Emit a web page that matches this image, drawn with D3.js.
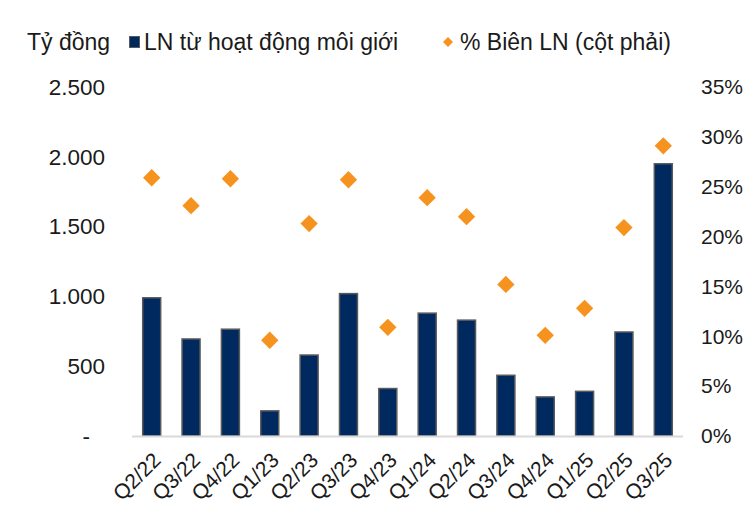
<!DOCTYPE html>
<html><head><meta charset="utf-8">
<script src="https://cdn.jsdelivr.net/npm/d3@7"></script>
<style>
body{margin:0;background:#fff;}
text{font-family:"Liberation Sans",Arial,sans-serif;fill:#1a1a1a;}
</style></head>
<body><svg id="c" width="751" height="507"></svg>
<script>
const quarters = ["Q2/22","Q3/22","Q4/22","Q1/23","Q2/23","Q3/23","Q4/23","Q1/24","Q2/24","Q3/24","Q4/24","Q1/25","Q2/25","Q3/25"];
const profit = [990, 695, 765, 180, 580, 1020, 340, 880, 830, 435, 280, 320, 745, 1950];
const margin = [25.9, 23.1, 25.8, 9.6, 21.3, 25.7, 10.9, 23.9, 22.0, 15.2, 10.1, 12.8, 20.9, 29.1];
const leftTicks = [0, 500, 1000, 1500, 2000, 2500];
const rightTicks = [0, 5, 10, 15, 20, 25, 30, 35];
const unitLabel = "Tỷ đồng";
const seriesNames = ["LN từ hoạt động môi giới", "% Biên LN (cột phải)"];

const navy = "#002a5f", orange = "#f6921e", barStroke = "#5a5a5a";
const svg = d3.select("#c");
const ff = "Liberation Sans, Arial, sans-serif";

const x = d3.scaleBand().domain(quarters).range([132, 683]).paddingInner(0.543).paddingOuter(0.272);
const yL = d3.scaleLinear().domain([0, 2500]).range([436, 87]);
const yR = d3.scaleLinear().domain([0, 35]).range([436, 87]);

// left axis
const fmtL = v => v === 0 ? "-" : d3.format(",")(v).replace(/,/g, ".");
const axL = d3.axisLeft(yL).tickValues(leftTicks).tickFormat(fmtL).tickSize(0).tickPadding(0);
const gL = svg.append("g").attr("transform", "translate(105,0)").call(axL);
gL.select(".domain").remove();
gL.selectAll("text").attr("font-size", 22.5).attr("font-family", ff).attr("fill", "#1a1a1a")
  .attr("dx", d => d === 0 ? -15 : 0);

// right axis
const axR = d3.axisRight(yR).tickValues(rightTicks).tickFormat(v => v + "%").tickSize(0).tickPadding(0);
const gR = svg.append("g").attr("transform", "translate(701,0)").call(axR);
gR.select(".domain").remove();
gR.selectAll("text").attr("font-size", 21).attr("font-family", ff).attr("fill", "#1a1a1a");

// bars
svg.append("g").selectAll("rect").data(profit).join("rect")
  .attr("x", (d, i) => x(quarters[i]))
  .attr("width", x.bandwidth())
  .attr("y", d => yL(d))
  .attr("height", d => yL(0) - yL(d))
  .attr("fill", navy).attr("stroke", barStroke).attr("stroke-width", 1.5);

// baseline
svg.append("line").attr("x1", 132).attr("x2", 683).attr("y1", yL(0) + 0.5).attr("y2", yL(0) + 0.5)
  .attr("stroke", "#d9d9d9").attr("stroke-width", 2);

// diamonds
const dia = d3.symbol().type(d3.symbolSquare).size(150);
svg.append("g").selectAll("path").data(margin).join("path")
  .attr("d", dia)
  .attr("transform", (d, i) => `translate(${x(quarters[i]) + x.bandwidth() / 2},${yR(d)}) rotate(45)`)
  .attr("fill", orange);

// x labels
const axX = d3.axisBottom(x).tickSize(0).tickPadding(0);
const gX = svg.append("g").attr("transform", "translate(0,451)").call(axX);
gX.select(".domain").remove();
gX.selectAll("text").attr("font-size", 21).attr("font-family", ff).attr("fill", "#1a1a1a")
  .attr("text-anchor", "end").attr("dy", "0.7em")
  .attr("transform", "translate(0,0) rotate(-45)");

// legend
const ly = 42;
svg.append("text").attr("x", 27).attr("y", ly).attr("dy", "0.35em").attr("font-size", 23).text(unitLabel);
svg.append("rect").attr("x", 129.5).attr("y", ly - 5.5).attr("width", 10).attr("height", 11)
  .attr("fill", navy).attr("stroke", barStroke).attr("stroke-width", 1);
svg.append("text").attr("x", 144).attr("y", ly).attr("dy", "0.35em").attr("font-size", 23).text(seriesNames[0]);
svg.append("path").attr("d", d3.symbol().type(d3.symbolSquare).size(50))
  .attr("transform", `translate(448,${ly}) rotate(45)`).attr("fill", orange);
svg.append("text").attr("x", 460).attr("y", ly).attr("dy", "0.35em").attr("font-size", 23).text(seriesNames[1]);
</script></body></html>
